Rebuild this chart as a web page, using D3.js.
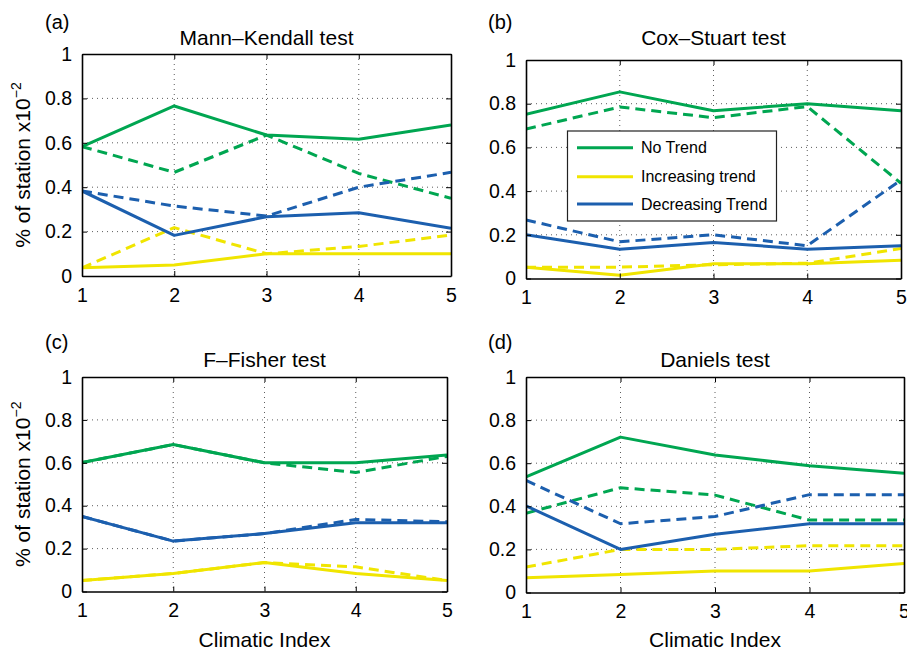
<!DOCTYPE html>
<html>
<head>
<meta charset="utf-8">
<script src="https://cdnjs.cloudflare.com/ajax/libs/d3/7.8.5/d3.min.js"></script>
<style>
  html, body { margin: 0; padding: 0; background: #fff; }
  svg { display: block; font-family: "Liberation Sans", Arial, Helvetica, sans-serif; }
</style>
</head>
<body>
<svg id="fig" width="907" height="652"></svg>
<script>
// Climatic index on the x axis, share of stations on the y axis
const indices = [1, 2, 3, 4, 5];
const yTicks = [0, 0.2, 0.4, 0.6, 0.8, 1];
const yTickLabels = ["0", "0.2", "0.4", "0.6", "0.8", "1"];
const testNames = ["Mann\u2013Kendall test", "Cox\u2013Stuart test", "F\u2013Fisher test", "Daniels test"];
const panelTags = ["(a)", "(b)", "(c)", "(d)"];
const legendLabels = ["No Trend", "Increasing trend", "Decreasing Trend"];

// Mann–Kendall
const mkNo       = [0.583, 0.766, 0.635, 0.616, 0.680];
const mkNoDash   = [0.583, 0.467, 0.635, 0.462, 0.350];
const mkInc      = [0.037, 0.050, 0.100, 0.100, 0.100];
const mkIncDash  = [0.037, 0.218, 0.100, 0.133, 0.185];
const mkDec      = [0.383, 0.183, 0.267, 0.285, 0.215];
const mkDecDash  = [0.383, 0.315, 0.270, 0.400, 0.467];

// Cox–Stuart
const csNo       = [0.752, 0.854, 0.768, 0.800, 0.768];
const csNoDash   = [0.684, 0.785, 0.736, 0.787, 0.436];
const csInc      = [0.052, 0.015, 0.067, 0.067, 0.084];
const csIncDash  = [0.052, 0.052, 0.063, 0.070, 0.137];
const csDec      = [0.200, 0.134, 0.165, 0.134, 0.150];
const csDecDash  = [0.268, 0.168, 0.200, 0.150, 0.451];

// F–Fisher
const ffNo       = [0.601, 0.685, 0.600, 0.600, 0.636];
const ffNoDash   = [0.601, 0.685, 0.600, 0.555, 0.630];
const ffInc      = [0.051, 0.084, 0.135, 0.084, 0.051];
const ffIncDash  = [0.051, 0.084, 0.135, 0.115, 0.051];
const ffDec      = [0.350, 0.235, 0.270, 0.320, 0.320];
const ffDecDash  = [0.350, 0.235, 0.270, 0.336, 0.325];

// Daniels
const dnNo       = [0.536, 0.721, 0.638, 0.588, 0.553];
const dnNoDash   = [0.368, 0.486, 0.452, 0.336, 0.336];
const dnInc      = [0.068, 0.084, 0.100, 0.100, 0.135];
const dnIncDash  = [0.118, 0.200, 0.200, 0.217, 0.217];
const dnDec      = [0.402, 0.200, 0.270, 0.319, 0.319];
const dnDecDash  = [0.520, 0.319, 0.353, 0.454, 0.454];

const colors = { no: "#00a651", inc: "#f0e500", dec: "#1c5fae" };

const panelSeries = [
  [mkNo, mkNoDash, mkInc, mkIncDash, mkDec, mkDecDash],
  [csNo, csNoDash, csInc, csIncDash, csDec, csDecDash],
  [ffNo, ffNoDash, ffInc, ffIncDash, ffDec, ffDecDash],
  [dnNo, dnNoDash, dnInc, dnIncDash, dnDec, dnDecDash]
];
const seriesKeys = ["no", "no", "inc", "inc", "dec", "dec"];
const seriesDashed = [false, true, false, true, false, true];

// axes boxes: left, top, right, bottom
const boxes = [
  { l: 82,  t: 54,  r: 451, b: 276 },
  { l: 526, t: 60,  r: 901, b: 278.5 },
  { l: 82,  t: 377, r: 447, b: 591.5 },
  { l: 526, t: 377, r: 904, b: 592.5 }
];

const FONT = "'Liberation Sans', Arial, Helvetica, sans-serif";
const svg = d3.select("#fig");

boxes.forEach((bx, i) => {
  const x = d3.scaleLinear().domain([1, 5]).range([bx.l, bx.r]);
  const y = d3.scaleLinear().domain([0, 1]).range([bx.b, bx.t]);
  const g = svg.append("g");

  // dotted grid
  g.append("g").selectAll("line").data(indices.slice(1, -1)).join("line")
    .attr("x1", d => x(d)).attr("x2", d => x(d))
    .attr("y1", bx.t).attr("y2", bx.b)
    .attr("stroke", "#333").attr("stroke-width", 0.8)
    .attr("stroke-dasharray", "1,4");
  g.append("g").selectAll("line").data(yTicks.slice(1, -1)).join("line")
    .attr("y1", d => y(d)).attr("y2", d => y(d))
    .attr("x1", bx.l).attr("x2", bx.r)
    .attr("stroke", "#333").attr("stroke-width", 0.8)
    .attr("stroke-dasharray", "1,4");

  // series lines
  const clipId = "clip" + i;
  g.append("clipPath").attr("id", clipId).append("rect")
    .attr("x", bx.l).attr("y", bx.t - 2).attr("width", bx.r - bx.l).attr("height", bx.b - bx.t + 4);
  const line = d3.line().x((d, k) => x(indices[k])).y(d => y(d));
  const lg = g.append("g").attr("clip-path", `url(#${clipId})`);
  panelSeries[i].forEach((vals, s) => {
    lg.append("path")
      .attr("d", line(vals))
      .attr("fill", "none")
      .attr("stroke", colors[seriesKeys[s]])
      .attr("stroke-width", 3)
      .attr("stroke-linejoin", "round")
      .attr("stroke-dasharray", seriesDashed[s] ? "10,6" : null);
  });

  // axes with inward ticks (bottom/left labelled, top/right bare)
  const xAxis = d3.axisBottom(x).tickValues(indices).tickFormat(d3.format("d")).tickSizeInner(-5).tickSizeOuter(0).tickPadding(12);
  const yAxis = d3.axisLeft(y).tickValues(yTicks).tickFormat((d, k) => yTickLabels[k]).tickSizeInner(-5).tickSizeOuter(0).tickPadding(10);
  const xAxisTop = d3.axisTop(x).tickValues(indices).tickFormat("").tickSizeInner(-5).tickSizeOuter(0);
  const yAxisRight = d3.axisRight(y).tickValues(yTicks).tickFormat("").tickSizeInner(-5).tickSizeOuter(0);

  const styleAxis = sel => {
    sel.selectAll("path.domain").attr("stroke", "#000").attr("stroke-width", 1.6);
    sel.selectAll(".tick line").attr("stroke", "#000").attr("stroke-width", 1);
    sel.selectAll("text").attr("fill", "#000").attr("font-size", 19.5).attr("font-family", FONT);
  };
  g.append("g").attr("transform", `translate(0,${bx.b})`).call(xAxis).call(styleAxis);
  g.append("g").attr("transform", `translate(${bx.l},0)`).call(yAxis).call(styleAxis);
  g.append("g").attr("transform", `translate(0,${bx.t})`).call(xAxisTop).call(styleAxis);
  g.append("g").attr("transform", `translate(${bx.r},0)`).call(yAxisRight).call(styleAxis);

  // title and panel tag
  g.append("text").attr("x", (bx.l + bx.r) / 2).attr("y", i < 2 ? 45 : 366.5)
    .attr("text-anchor", "middle").attr("font-size", 21).text(testNames[i]);
  g.append("text").attr("x", i % 2 === 0 ? 45 : 488).attr("y", i < 2 ? 29 : 349)
    .attr("font-size", 20).text(panelTags[i]);

  // y label on the left column
  if (i % 2 === 0) {
    const cy = (bx.t + bx.b) / 2;
    const t = g.append("text").attr("transform", `translate(30,${cy}) rotate(-90)`)
      .attr("text-anchor", "middle").attr("font-size", 21);
    t.append("tspan").text("% of station x10");
    t.append("tspan").attr("dy", -9).attr("font-size", 14).text("\u22122");
  }
  // x label on the bottom row
  if (i >= 2) {
    g.append("text").attr("x", (bx.l + bx.r) / 2).attr("y", 647)
      .attr("text-anchor", "middle").attr("font-size", 21).text("Climatic Index");
  }
});

// legend inside the Cox–Stuart panel
const leg = svg.append("g");
leg.append("rect").attr("x", 567.5).attr("y", 131).attr("width", 209).attr("height", 90)
  .attr("fill", "#fff").attr("stroke", "#222").attr("stroke-width", 1.2);
["no", "inc", "dec"].forEach((k, j) => {
  const ly = [147.7, 176.7, 204][j];
  leg.append("line").attr("x1", 577).attr("x2", 633).attr("y1", ly).attr("y2", ly)
    .attr("stroke", colors[k]).attr("stroke-width", 3);
  leg.append("text").attr("x", 641).attr("y", ly).attr("dy", "0.35em")
    .attr("font-size", 16).text(legendLabels[j]);
});
</script>
</body>
</html>
